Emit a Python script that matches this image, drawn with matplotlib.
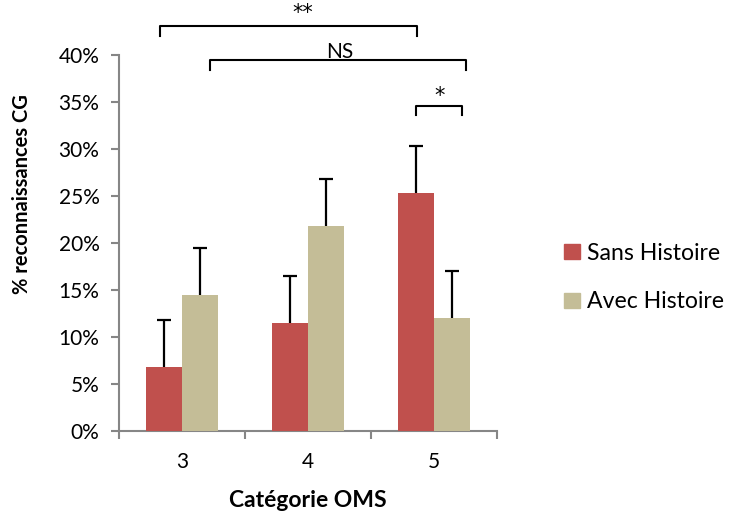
import matplotlib
matplotlib.use("Agg")
import matplotlib.pyplot as plt
from matplotlib.patches import Patch
import numpy as np

categories = ["3", "4", "5"]
sans_histoire = [6.8, 11.5, 25.3]
avec_histoire = [14.5, 21.8, 12.0]
err_sans = [5.0, 5.0, 5.0]
err_avec = [5.0, 5.0, 5.0]
series_labels = ["Sans Histoire", "Avec Histoire"]
ytick_vals = [0, 5, 10, 15, 20, 25, 30, 35, 40]
ytick_labels = ["0%", "5%", "10%", "15%", "20%", "25%", "30%", "35%", "40%"]

# significance brackets: (x_left, x_right, y_top, y_bottom, text, text_x, text_y)
brackets = [
    (-0.175, 1.865, 43.1, 42.0, "**", 0.96, 44.5),
    (0.22, 2.25, 39.5, 38.4, "NS", 1.25, 40.3),
    (1.855, 2.222, 34.6, 33.6, "*", 2.04, 35.6),
]

plt.rcParams['font.family'] = ['Lato', 'DejaVu Sans']

red = "#C0504D"
beige = "#C4BD97"
gray = "#868686"

fig = plt.figure(figsize=(7.29, 5.13), dpi=100)
ax = fig.add_axes([0.163, 0.160, 0.519, 0.733])

x = np.arange(len(categories))
w = 0.286
ax.bar(x - w/2, sans_histoire, w, color=red, zorder=3)
ax.bar(x + w/2, avec_histoire, w, color=beige, zorder=3)
ax.errorbar(x - w/2, sans_histoire, yerr=err_sans, fmt='none',
            ecolor='black', elinewidth=1.6, capsize=4.7, capthick=1.6, zorder=2)
ax.errorbar(x + w/2, avec_histoire, yerr=err_avec, fmt='none',
            ecolor='black', elinewidth=1.6, capsize=4.7, capthick=1.6, zorder=2)

ax.set_xlim(-0.5, 2.5)
ax.set_ylim(0, 40)
ax.set_yticks(ytick_vals)
ax.set_yticklabels(ytick_labels, fontsize=15)
ax.set_xticks([-0.5, 0.5, 1.5, 2.5])
ax.set_xticklabels([])
ax.set_xticks(x, minor=True)
ax.set_xticklabels(categories, minor=True, fontsize=15)
ax.tick_params(axis='x', which='minor', length=0, pad=15)
ax.tick_params(axis='x', which='major', length=6, color=gray, width=1.5)
ax.tick_params(axis='y', length=6, color=gray, width=1.5, pad=8)

for s in ['top', 'right']:
    ax.spines[s].set_visible(False)
for s in ['left', 'bottom']:
    ax.spines[s].set_color(gray)
    ax.spines[s].set_linewidth(1.5)

ax.set_xlabel("Catégorie OMS", fontsize=16.5, fontweight='bold', va='center')
ax.xaxis.set_label_coords(0.5, -0.186)
ax.set_ylabel("% reconnaissances CG", fontsize=14.5, fontweight='bold', va='center')
ax.yaxis.set_label_coords(-0.255, 0.63)

for xl, xr, yt, yb, txt, tx, ty in brackets:
    ax.plot([xl, xl, xr, xr], [yb, yt, yt, yb], color='black', lw=1.5,
            clip_on=False, zorder=4)
    fam = ['DejaVu Sans'] if '*' in txt else ['Lato', 'DejaVu Sans']
    ax.text(tx, ty, txt, ha='center', va='center', fontsize=15,
            family=fam, clip_on=False)

handles = [Patch(color=red), Patch(color=beige)]
fig.legend(handles, series_labels, loc='center left',
           bbox_to_anchor=(0.774, 0.459), frameon=False, fontsize=16.6,
           handlelength=0.67, handleheight=0.62, handletextpad=0.3,
           labelspacing=1.2, borderpad=0, borderaxespad=0)

fig.savefig("out.png", dpi=100)
